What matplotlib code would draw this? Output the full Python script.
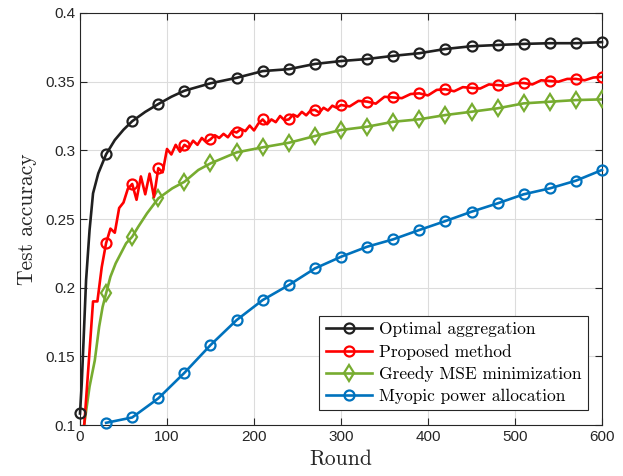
import numpy as np
import matplotlib
matplotlib.use('Agg')
import matplotlib.pyplot as plt

# --- data ---
rounds_opt = [0, 2, 4, 7, 11, 15, 21, 30, 40, 50, 60, 75, 90, 105, 120, 150, 180, 210,
              240, 270, 300, 330, 360, 390, 420, 450, 480, 510, 540, 570, 600]
acc_opt = [0.1084, 0.13, 0.16, 0.2055, 0.242, 0.2687, 0.2832, 0.2971, 0.3075, 0.315,
           0.3212, 0.328, 0.3337, 0.339, 0.3434, 0.3488, 0.3528, 0.3577, 0.3591, 0.3629,
           0.365, 0.3665, 0.3688, 0.3707, 0.3738, 0.3758, 0.3767, 0.3775, 0.378, 0.378, 0.3788]

rounds_prop = [0, 5, 10, 15, 20, 25, 30, 35, 40, 45, 50, 55, 60, 65, 70, 75, 80, 85, 90,
               95, 100, 105, 110, 115, 120, 125, 130, 135, 140, 145, 150, 155, 160, 165,
               170, 175, 180, 185, 190, 195, 200, 205, 210, 215, 220, 225, 230, 235, 240,
               245, 250, 255, 260, 265, 270, 275, 280, 285, 290, 295, 300, 310, 320, 330,
               340, 350, 360, 370, 380, 390, 400, 410, 420, 430, 440, 450, 460, 470, 480,
               490, 500, 510, 520, 530, 540, 550, 560, 570, 580, 590, 600]
acc_prop = [0.08, 0.101, 0.145, 0.19, 0.19, 0.215, 0.2325, 0.243, 0.24, 0.258, 0.262,
            0.272, 0.2755, 0.264, 0.281, 0.268, 0.283, 0.266, 0.287, 0.284, 0.301, 0.297,
            0.304, 0.299, 0.304, 0.302, 0.307, 0.304, 0.309, 0.306, 0.308, 0.311, 0.309,
            0.312, 0.3095, 0.314, 0.313, 0.3155, 0.314, 0.318, 0.3145, 0.3195, 0.3225,
            0.319, 0.3225, 0.3205, 0.325, 0.322, 0.3225, 0.326, 0.3245, 0.328, 0.3255,
            0.329, 0.3295, 0.3275, 0.331, 0.329, 0.3325, 0.331, 0.333, 0.332, 0.336,
            0.3355, 0.334, 0.339, 0.3385, 0.338, 0.341, 0.3415, 0.34, 0.344, 0.3445, 0.343,
            0.346, 0.3455, 0.345, 0.348, 0.3475, 0.347, 0.349, 0.349, 0.348, 0.351, 0.3505,
            0.35, 0.352, 0.352, 0.351, 0.353, 0.3535]

rounds_greedy = [0, 5, 11, 17, 22, 26, 30, 35, 41, 47, 53, 60, 67, 77, 90, 106, 120, 136,
                 150, 180, 210, 240, 270, 300, 330, 360, 390, 420, 450, 480, 510, 540, 570, 600]
acc_greedy = [0.08, 0.101, 0.128, 0.147, 0.1715, 0.186, 0.1959, 0.208, 0.2177, 0.225,
              0.2323, 0.2371, 0.2444, 0.2541, 0.265, 0.2723, 0.2771, 0.2857, 0.2905, 0.2985,
              0.3022, 0.3055, 0.3104, 0.3148, 0.3172, 0.3208, 0.3226, 0.3257, 0.3281, 0.3306,
              0.3342, 0.3354, 0.3366, 0.3371]

rounds_myopic = [30, 60, 90, 120, 150, 180, 210, 240, 270, 300, 330, 360, 390, 420, 450,
                 480, 510, 540, 570, 600]
acc_myopic = [0.1016, 0.1055, 0.1194, 0.138, 0.1582, 0.1764, 0.191, 0.2019, 0.214, 0.2225,
              0.2298, 0.2352, 0.242, 0.2485, 0.2553, 0.2614, 0.268, 0.2723, 0.2779, 0.2857]

labels = ['Optimal aggregation', 'Proposed method', 'Greedy MSE minimization',
          'Myopic power allocation']

xticks = [0, 100, 200, 300, 400, 500, 600]
yticks = [0.1, 0.15, 0.2, 0.25, 0.3, 0.35, 0.4]
ytick_labels = ['0.1', '0.15', '0.2', '0.25', '0.3', '0.35', '0.4']


def marker_idx(rounds, skip_zero=False):
    # markers every 30 rounds
    return [i for i, r in enumerate(rounds) if r % 30 == 0 and not (skip_zero and r == 0)]


plt.rcParams['font.family'] = 'Liberation Sans'

fig = plt.figure(figsize=(6.23, 4.76), dpi=100)
ax = fig.add_axes([0.1284, 0.1071, 0.8379, 0.8656])

lw = 1.9
ms = 7.2
mew = 1.6
ax.plot(rounds_opt, acc_opt, color='#202020', lw=lw, marker='o', ms=ms, mew=mew,
        mfc='none', markevery=marker_idx(rounds_opt), clip_on=False, label=labels[0], zorder=5)
ax.plot(rounds_prop, acc_prop, color='#ff0000', lw=lw, marker='o', ms=ms, mew=mew,
        mfc='none', markevery=marker_idx(rounds_prop, True), label=labels[1], zorder=4)
ax.plot(rounds_greedy, acc_greedy, color='#77ac30', lw=lw, marker='d', ms=ms + 0.8, mew=mew,
        mfc='none', markevery=marker_idx(rounds_greedy, True), label=labels[2], zorder=3)
ax.plot(rounds_myopic, acc_myopic, color='#0072bd', lw=lw, marker='o', ms=ms, mew=mew,
        mfc='none', markevery=marker_idx(rounds_myopic), clip_on=False, label=labels[3], zorder=3)

ax.set_xlim(0, 600)
ax.set_ylim(0.1, 0.4)
ax.set_xticks(xticks)
ax.set_xticklabels([str(x) for x in xticks])
ax.set_yticks(yticks)
ax.set_yticklabels(ytick_labels)
ax.grid(True, color='#dcdcdc', lw=0.8)
ax.set_axisbelow(True)
ax.tick_params(direction='in', length=5, width=0.8, top=True, right=True,
               labelsize=11, colors='#262626')
for s in ax.spines.values():
    s.set_color('#262626')
    s.set_linewidth(0.8)

ax.set_xlabel('Round', family='cmr10', fontsize=15.5, color='#262626', labelpad=4)
ax.set_ylabel('Test accuracy', family='cmr10', fontsize=15.5, color='#262626', labelpad=6)

leg = ax.legend(loc='lower right', bbox_to_anchor=(0.973, 0.036), borderaxespad=0,
                prop={'family': 'cmr10', 'size': 12.5}, handlelength=2.7,
                handletextpad=0.4, labelspacing=0.38, borderpad=0.35,
                fancybox=False, framealpha=1, edgecolor='#262626')
leg.get_frame().set_linewidth(0.8)

fig.savefig('out.png', dpi=100)
